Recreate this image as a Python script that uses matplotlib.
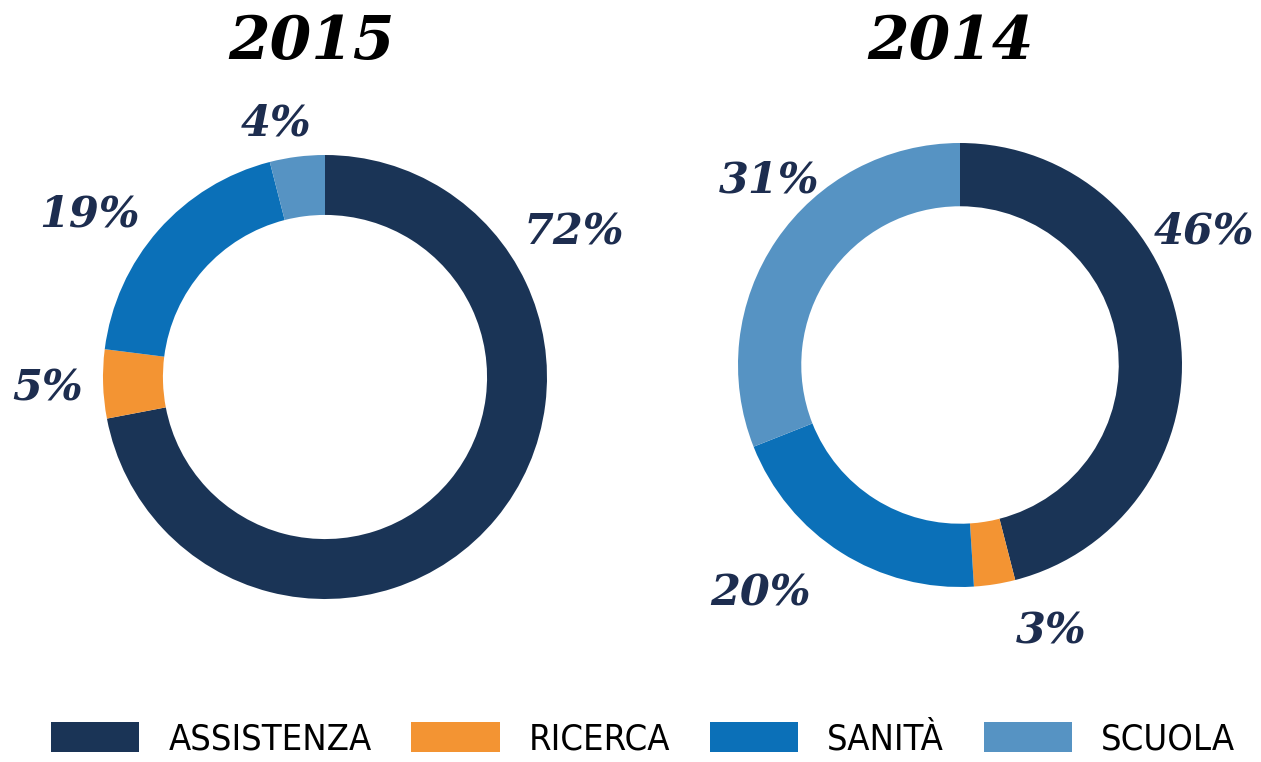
import matplotlib.pyplot as plt
from matplotlib.axes import Axes
from matplotlib.figure import Figure

categories = ["ASSISTENZA", "RICERCA", "SANITÀ", "SCUOLA"]
years = ["2015", "2014"]
shares_2015 = [72, 5, 19, 4]
shares_2014 = [46, 3, 20, 31]

colors = ["#1a3456", "#f39433", "#0b70b8", "#5693c3"]
label_color = "#1d2d4f"

# label offsets in units of the outer radius
label_pos_2015 = [(1.12, 0.65), (-1.25, -0.05), (-1.06, 0.73), (-0.22, 1.14)]
label_pos_2014 = [(1.10, 0.60), (0.41, -1.20), (-0.90, -1.03), (-0.86, 0.83)]

W, H = 1261, 762
fig: Figure = plt.figure(figsize=(W / 100, H / 100), dpi=100)

half = 1.4
size_px = 2 * half * 222


def donut(cx: float, cy: float, values, positions, title: str, title_x: float,
          ring: float) -> list:
    ax: Axes = fig.add_axes(
        [(cx - size_px / 2) / W, (H - cy - size_px / 2) / H, size_px / W, size_px / H]
    )
    wedges, _ = ax.pie(
        values,
        colors=colors,
        startangle=90,
        counterclock=False,
        radius=1.0,
        wedgeprops=dict(width=ring, linewidth=0),
    )
    for v, (x, y) in zip(values, positions):
        ax.text(x, y, f"{v}%", ha="center", va="center", fontsize=31,
                family="DejaVu Serif", weight="bold", style="italic", color=label_color)
    ax.set_xlim(-half, half)
    ax.set_ylim(-half, half)
    ax.set_aspect("equal")
    ax.axis("off")
    fig.text(title_x / W, 1 - 42 / H, title, ha="center", va="center", fontsize=43,
             family="DejaVu Serif", weight="heavy", style="italic", color="black")
    return wedges


wedges = donut(325, 377, shares_2015, label_pos_2015, years[0], 312, 0.27)
donut(960, 365, shares_2014, label_pos_2014, years[1], 951, 0.285)

fig.legend(
    wedges,
    categories,
    loc="lower center",
    bbox_to_anchor=(0.51, -0.035),
    ncol=4,
    frameon=False,
    prop=dict(family="DejaVu Sans", stretch="condensed", size=26),
    handlelength=2.45,
    handleheight=0.9,
    handletextpad=0.8,
    columnspacing=1.1,
)

fig.savefig("out.png", dpi=100)
